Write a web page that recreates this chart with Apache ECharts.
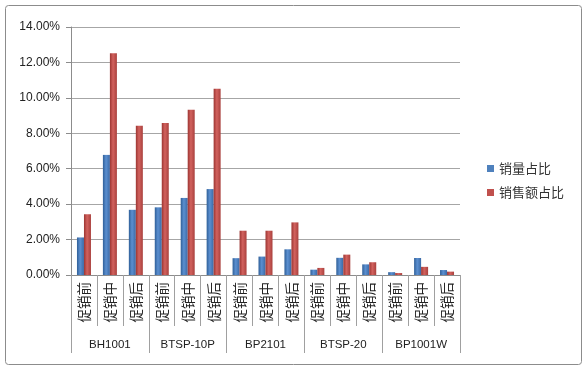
<!DOCTYPE html>
<html><head><meta charset="utf-8">
<script src="https://cdn.jsdelivr.net/npm/echarts@6/dist/echarts.min.js"></script>
<style>html,body{margin:0;padding:0;background:#fff}#c{width:584px;height:369px}</style>
</head><body><div id="c"></div>
<script>
var groups = ['BH1001', 'BTSP-10P', 'BP2101', 'BTSP-20', 'BP1001W'];
var phases = ['促销前', '促销中', '促销后'];
var categories = ['促销前','促销中','促销后','促销前','促销中','促销后','促销前','促销中','促销后','促销前','促销中','促销后','促销前','促销中','促销后'];
var volumeShare = [2.12, 6.78, 3.68, 3.82, 4.35, 4.85, 0.95, 1.04, 1.45, 0.30, 0.97, 0.60, 0.16, 0.96, 0.28];
var salesShare  = [3.43, 12.52, 8.43, 8.58, 9.33, 10.52, 2.50, 2.50, 2.97, 0.40, 1.15, 0.72, 0.11, 0.46, 0.19];
var yTicks = [0, 2, 4, 6, 8, 10, 12, 14];

function grad(c1, c2, c3) {
  return new echarts.graphic.LinearGradient(0, 0, 1, 0, [
    {offset: 0, color: c1}, {offset: 0.45, color: c2}, {offset: 1, color: c3}
  ]);
}
var chart = echarts.init(document.getElementById('c'), null, {renderer: 'canvas'});
var latin = '"Liberation Sans", "Noto Sans CJK SC", sans-serif';
var cjk = '"Noto Sans CJK SC", sans-serif';
chart.setOption({
  animation: false,
  graphic: [{
    type: 'rect', left: 3, top: 3, shape: {width: 576, height: 359, r: 3},
    style: {fill: 'none', stroke: '#8c8c8c', lineWidth: 1}, z: -1
  }],
  legend: {
    orient: 'vertical', left: 482, top: 157,
    itemWidth: 7, itemHeight: 7, itemGap: 11,
    icon: 'rect',
    textStyle: {fontFamily: cjk, fontSize: 13, color: '#333'},
    data: [{name: '销量占比', itemStyle: {color: '#4f81bd'}}, {name: '销售额占比', itemStyle: {color: '#c0504d'}}]
  },
  grid: {left: 71, right: 124, top: 27, bottom: 94, containLabel: false},
  xAxis: [{
    type: 'category', data: categories,
    axisLine: {show: true, lineStyle: {color: '#8c8c8c', width: 1}},
    axisTick: {show: true, interval: 0, length: 51, lineStyle: {color: '#a0a0a0'}},
    axisLabel: {interval: 0, rotate: 90, margin: 7, fontFamily: cjk, fontSize: 13.5, color: '#222'}
  }, {
    type: 'category', data: groups, position: 'bottom',
    axisLine: {show: false},
    axisTick: {show: true, interval: 0, length: 78, lineStyle: {color: '#a0a0a0'}},
    axisLabel: {interval: 0, margin: 64, fontFamily: latin, fontSize: 11.5, color: '#222'}
  }],
  yAxis: {
    type: 'value', min: 0, max: 14, interval: 2,
    axisLine: {show: true, lineStyle: {color: '#8c8c8c'}},
    axisTick: {show: true, length: 5, lineStyle: {color: '#8c8c8c'}},
    axisLabel: {margin: 11, fontFamily: latin, fontSize: 12, color: '#222',
      formatter: function (v) { return v.toFixed(2) + '%'; }},
    splitLine: {show: true, lineStyle: {color: '#a6a6a6', width: 1}}
  },
  series: [{
    name: '销量占比', type: 'bar', xAxisIndex: 0, data: volumeShare,
    barWidth: 7, barGap: '0%',
    itemStyle: {color: grad('#2f5f98', '#5b8fd0', '#3b6aa6')}
  }, {
    name: '销售额占比', type: 'bar', xAxisIndex: 0, data: salesShare,
    barWidth: 7, barGap: '0%',
    itemStyle: {color: grad('#9c3532', '#d2625e', '#a9403d')}
  }]
});
</script></body></html>
